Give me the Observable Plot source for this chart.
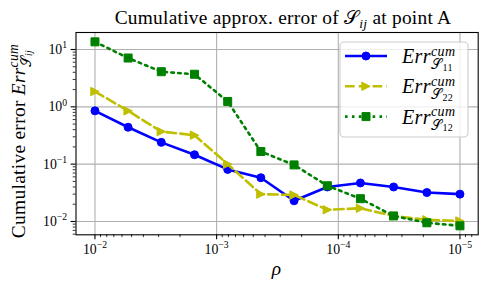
<!DOCTYPE html>
<html><head><meta charset="utf-8">
<script src="https://cdn.jsdelivr.net/npm/d3@7"></script>
<script src="https://cdn.jsdelivr.net/npm/@observablehq/plot@0.6"></script>
<style>body{margin:0;background:#fff}svg{display:block}</style>
</head><body>
<script>
// rho values (log-spaced)
const rho = [1.0e-2, 5.34e-3, 2.85e-3, 1.52e-3, 8.11e-4, 4.33e-4, 2.31e-4, 1.23e-4, 6.58e-5, 3.51e-5, 1.87e-5, 1.0e-5];
const err11 = [0.85, 0.44, 0.24, 0.146, 0.081, 0.058, 0.023, 0.040, 0.047, 0.040, 0.032, 0.030];
const err22 = [1.85, 0.85, 0.37, 0.32, 0.10, 0.030, 0.029, 0.016, 0.017, 0.0125, 0.0107, 0.0102];
const err12 = [13.6, 7.1, 4.1, 3.7, 1.24, 0.166, 0.097, 0.042, 0.025, 0.0125, 0.0095, 0.0084];
const xTicks = [1e-2, 1e-3, 1e-4, 1e-5];
const xTickLabels = ["10^−2", "10^−3", "10^−4", "10^−5"];
const yTicks = [1e-2, 1e-1, 1, 10];
const yTickLabels = ["10^−2", "10^−1", "10^0", "10^1"];
const seriesNames = ["11", "22", "12"];
const colors = ["#0000ff", "#bfbf00", "#008000"];

const FONT = "'Liberation Serif', serif";
const xDomain = [0.01432, 7.08e-6];
const yDomain = [0.00586, 19.79];

function minorTicks(lo, hi) {
  const out = [];
  for (let e = -7; e <= 2; e++) for (let m = 2; m <= 9; m++) {
    const v = m * Math.pow(10, e);
    if (v >= lo && v <= hi) out.push(v);
  }
  return out;
}
const xMinor = minorTicks(xDomain[1], xDomain[0]);
const yMinor = minorTicks(yDomain[0], yDomain[1]);

const mk = (vals) => rho.map((r, i) => ({rho: r, v: vals[i]}));
const d11 = mk(err11), d22 = mk(err22), d12 = mk(err12);

const triRight = {draw(ctx, size) { const h = Math.sqrt(size / Math.PI); ctx.moveTo(h, 0); ctx.lineTo(-h, -h); ctx.lineTo(-h, h); ctx.closePath(); }};
const sq = {draw(ctx, size) { const h = Math.sqrt(size / Math.PI); ctx.rect(-h, -h, 2*h, 2*h); }};

const LW = 2.6;
const xFmt = (d) => xTickLabels[xTicks.indexOf(d)];
const yFmt = (d) => yTickLabels[yTicks.indexOf(d)];

const svg = Plot.plot({
  width: 488, height: 289,
  marginLeft: 75.5, marginRight: 10.3, marginTop: 32, marginBottom: 54.7,
  style: {fontFamily: FONT, background: "#fff", color: "#000"},
  x: {type: "log", domain: xDomain, axis: null},
  y: {type: "log", domain: yDomain, axis: null},
  marks: [
    Plot.gridX(xTicks, {stroke: "#b0b0b0", strokeOpacity: 1, strokeWidth: 1.1}),
    Plot.gridY(yTicks, {stroke: "#b0b0b0", strokeOpacity: 1, strokeWidth: 1.1}),
    Plot.line(d11, {x: "rho", y: "v", stroke: colors[0], strokeWidth: LW}),
    Plot.dot(d11, {x: "rho", y: "v", r: 4, symbol: "circle", fill: colors[0], stroke: colors[0], strokeWidth: 1}),
    Plot.line(d22, {x: "rho", y: "v", stroke: colors[1], strokeWidth: LW, strokeDasharray: "9.6,4.2"}),
    Plot.dot(d22, {x: "rho", y: "v", r: 4.2, symbol: triRight, fill: colors[1], stroke: colors[1], strokeWidth: 1}),
    Plot.line(d12, {x: "rho", y: "v", stroke: colors[2], strokeWidth: LW, strokeDasharray: "2.6,4.3"}),
    Plot.dot(d12, {x: "rho", y: "v", r: 4, symbol: sq, fill: colors[2], stroke: colors[2], strokeWidth: 1}),
    Plot.frame({stroke: "#000", strokeWidth: 1.1}),
    Plot.axisX(xTicks, {anchor: "bottom", tickSize: 4.9, tickPadding: 4, tickFormat: xFmt, fontSize: 13.8, strokeWidth: 1.1, label: null}),
    Plot.axisX(xMinor, {anchor: "bottom", tickSize: 2.8, tickFormat: () => "", strokeWidth: 0.8, label: null}),
    Plot.axisY(yTicks, {anchor: "left", tickSize: 4.9, tickPadding: 4, tickFormat: yFmt, fontSize: 13.8, strokeWidth: 1.1, label: null}),
    Plot.axisY(yMinor, {anchor: "left", tickSize: 2.8, tickFormat: () => "", strokeWidth: 0.8, label: null})
  ]
});
document.body.append(svg);

// superscript formatting of tick labels
svg.querySelectorAll("text").forEach(t => {
  const s = t.textContent;
  if (!s.includes("^")) return;
  const [b, e] = s.split("^");
  while (t.firstChild) t.removeChild(t.firstChild);
  const ns = "http://www.w3.org/2000/svg";
  const t1 = document.createElementNS(ns, "tspan"); t1.textContent = b; t.appendChild(t1);
  const t2 = document.createElementNS(ns, "tspan"); t2.textContent = e;
  t2.setAttribute("font-size", "9.7"); t2.setAttribute("dy", "-5.5"); t.appendChild(t2);
});

const root = d3.select(svg);
function richText(parent, x, y, anchor, segs, transform, ls) {
  const txt = parent.append("text").attr("x", x).attr("y", y).attr("text-anchor", anchor)
    .attr("font-family", FONT).attr("fill", "#000");
  if (transform) txt.attr("transform", transform);
  if (ls) txt.attr("letter-spacing", ls);
  const nodes = [];
  segs.forEach(s => {
    const ts = txt.append("tspan").text(s.t).attr("font-size", s.fs);
    if (s.italic) ts.attr("font-style", "italic");
    if (s.dy) ts.attr("dy", s.dy);
    if (s.back != null) ts.attr("dx", -nodes[s.back].node().getComputedTextLength());
    nodes.push(ts);
  });
  return txt;
}
function errSegs(fs, prefix, sub) {
  const f2 = fs * 0.7, f3 = fs * 0.5;
  const segs = prefix ? [{t: prefix, fs}] : [];
  const n0 = segs.length;
  segs.push({t: "Err", fs, italic: true});
  segs.push({t: "cum", fs: f2, italic: true, dy: -0.36 * fs});
  segs.push({t: "𝒮", fs: f2, dy: 0.66 * fs, back: n0 + 1});
  segs.push({t: sub, fs: f3, italic: !/\d/.test(sub), dy: 0.08 * fs});
  return segs;
}

// Title
richText(root, 283, 24, "middle", [
  {t: "Cumulative approx. error of ", fs: 19.4},
  {t: "𝒮", fs: 19.4},
  {t: "ij", fs: 13.5, italic: true, dy: 4},
  {t: " at point A", fs: 19.4, dy: -4}
], null, 0.25);
// x label
richText(root, 276.5, 275, "middle", [{t: "ρ", fs: 19.4, italic: true}]);
// y label
richText(root, 0, 0, "middle", errSegs(19.4, "Cumulative error ", "ij"), "translate(25,141) rotate(-90)", 0.3);

// Legend
const lg = root.append("g");
lg.append("rect").attr("x", 340).attr("y", 42).attr("width", 128).attr("height", 95).attr("rx", 4)
  .attr("fill", "#fff").attr("fill-opacity", 0.8).attr("stroke", "#ccc").attr("stroke-width", 1.1);
const dashes = [null, "9.6,4.2", "2.6,4.3"];
const syms = [d3.symbolCircle, triRight, sq];
seriesNames.forEach((nm, i) => {
  const yy = 56 + i * 30.3;
  const ln = lg.append("line").attr("x1", 345).attr("x2", 387).attr("y1", yy).attr("y2", yy)
    .attr("stroke", colors[i]).attr("stroke-width", LW);
  if (dashes[i]) ln.attr("stroke-dasharray", dashes[i]);
  const rr = i === 1 ? 4.2 : 4;
  lg.append("path").attr("d", d3.symbol(syms[i], Math.PI * rr * rr)()).attr("transform", `translate(366,${yy})`)
    .attr("fill", colors[i]).attr("stroke", colors[i]).attr("stroke-width", 1);
  richText(lg, 402, yy + 7, "start", errSegs(20, null, nm), null, 0.4);
});
</script>
</body></html>
